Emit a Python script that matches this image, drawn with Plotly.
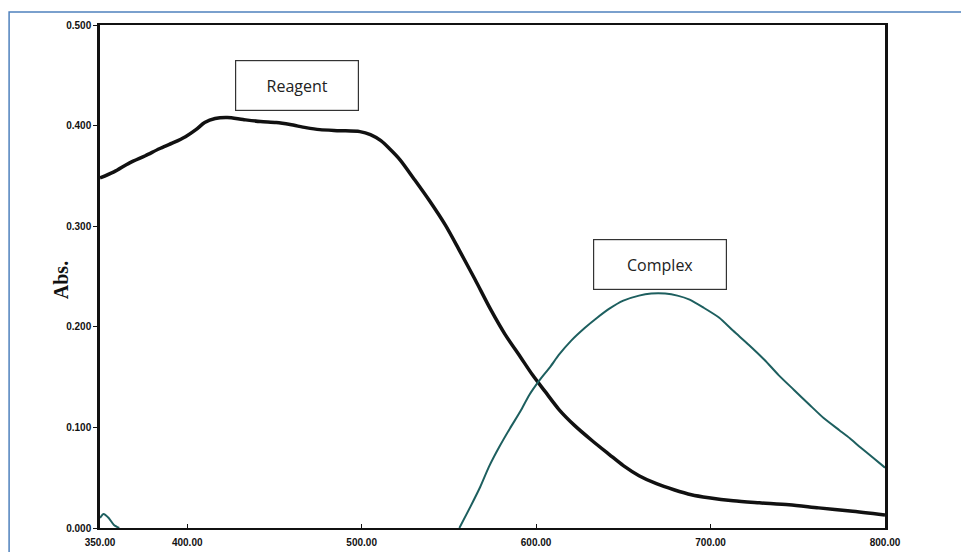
import plotly.graph_objects as go

# Wavelength (nm) and absorbance
reagent_wl = [350, 358, 367, 376, 384, 392, 399, 405, 410, 416, 423, 432, 442, 451, 459, 468, 476, 487, 499, 505, 511, 516, 522, 530, 539, 548, 556, 565, 574, 582, 591, 598, 605, 613, 622, 632, 642, 650, 659, 669, 679, 689, 699, 713, 728, 745, 762, 780, 800]
reagent_abs = [0.348, 0.354, 0.363, 0.370, 0.377, 0.383, 0.389, 0.396, 0.403, 0.407, 0.408, 0.406, 0.404, 0.403, 0.401, 0.398, 0.396, 0.395, 0.394, 0.391, 0.385, 0.377, 0.366, 0.347, 0.325, 0.301, 0.276, 0.247, 0.217, 0.193, 0.170, 0.152, 0.136, 0.118, 0.102, 0.087, 0.073, 0.062, 0.052, 0.044, 0.038, 0.033, 0.030, 0.027, 0.025, 0.023, 0.020, 0.017, 0.013]

complex_wl = [350, 352, 355, 358, 361, None, 556, 562, 568, 573, 579, 585, 591, 596, 602, 608, 613, 620, 628, 635, 642, 650, 659, 666, 674, 681, 688, 696, 705, 713, 722, 731, 739, 748, 757, 765, 774, 780, 786, 793, 800]
complex_abs = [0.010, 0.014, 0.010, 0.003, 0.000, None, 0.000, 0.020, 0.041, 0.061, 0.081, 0.099, 0.116, 0.132, 0.147, 0.160, 0.172, 0.186, 0.199, 0.209, 0.218, 0.226, 0.231, 0.233, 0.233, 0.231, 0.227, 0.219, 0.209, 0.196, 0.182, 0.167, 0.152, 0.137, 0.122, 0.109, 0.097, 0.089, 0.080, 0.070, 0.060]

x_ticks = [350, 400, 500, 600, 700, 800]
x_tick_text = ["350.00", "400.00", "500.00", "600.00", "700.00", "800.00"]
y_ticks = [0.0, 0.1, 0.2, 0.3, 0.4, 0.5]
y_tick_text = ["0.000", "0.100", "0.200", "0.300", "0.400", "0.500"]

fig = go.Figure()
fig.add_trace(go.Scatter(x=reagent_wl, y=reagent_abs, mode="lines",
                         line=dict(color="#111111", width=3.5, shape="spline", smoothing=0.8),
                         showlegend=False, hoverinfo="skip"))
fig.add_trace(go.Scatter(x=complex_wl, y=complex_abs, mode="lines",
                         line=dict(color="#1d5f5f", width=2, shape="spline", smoothing=0.6),
                         connectgaps=False, showlegend=False, hoverinfo="skip"))

tick_font = dict(family="Liberation Sans", size=10, color="#111111", weight="bold")

fig.update_layout(
    width=961, height=544,
    margin=dict(l=92, r=84, t=17, b=24, autoexpand=False),
    paper_bgcolor="white", plot_bgcolor="white",
    xaxis=dict(range=[350, 800], tickvals=x_ticks, ticktext=x_tick_text, automargin=False,
               showgrid=False, zeroline=False, showline=True, linecolor="#111111",
               linewidth=2, mirror=True, ticks="inside", ticklen=4, tickcolor="#111111",
               tickfont=tick_font, ticklabelstandoff=4),
    yaxis=dict(range=[0, 0.5], tickvals=y_ticks, ticktext=y_tick_text, automargin=False,
               showgrid=False, zeroline=False, showline=True, linecolor="#111111",
               linewidth=2.5, mirror=True, ticks="outside", ticklen=4, tickcolor="#111111",
               tickfont=tick_font),
    shapes=[
        dict(type="rect", xref="paper", yref="paper", x0=-0.1158, x1=1.0992, y0=-0.08, y1=1.0258,
             line=dict(color="#4f81bd", width=1.5), fillcolor="rgba(0,0,0,0)", layer="below"),
    ],
    annotations=[
        dict(x=463.1, y=0.4394, xref="x", yref="y", text="Reagent", showarrow=False,
             width=122, height=49, bordercolor="#333333", borderwidth=1.2, borderpad=0,
             bgcolor="white", font=dict(family="Open Sans", size=16, color="#222222")),
        dict(x=670.9, y=0.2624, xref="x", yref="y", text="Complex", showarrow=False,
             width=132, height=49, bordercolor="#333333", borderwidth=1.2, borderpad=0,
             bgcolor="white", font=dict(family="Open Sans", size=16, color="#222222")),
        dict(x=-0.066, y=0.493, xref="paper", yref="paper", text="<b>Abs.</b>", showarrow=False,
             textangle=-90, font=dict(family="Liberation Serif", size=20, color="#111111")),
    ],
)

fig.write_html("out.html")
